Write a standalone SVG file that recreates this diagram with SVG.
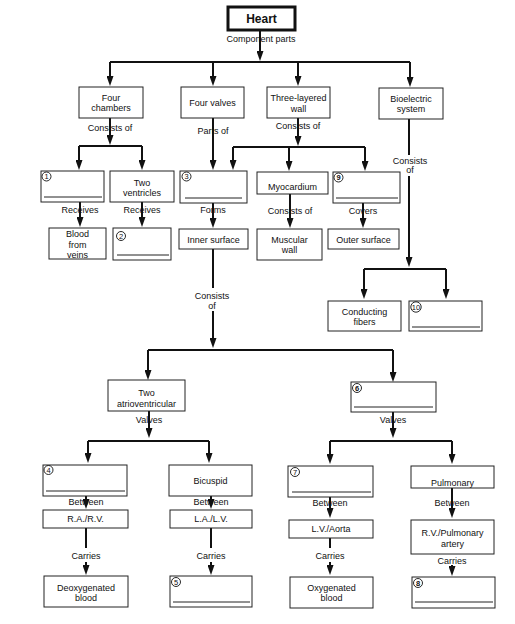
<svg xmlns="http://www.w3.org/2000/svg" width="515" height="624" viewBox="0 0 515 624">
<style>
.bx{fill:#fff;stroke:#222;stroke-width:1}
.hb{fill:#fff;stroke:#111;stroke-width:3}
.t{font-family:"Liberation Sans",Arial,sans-serif;font-size:9px;fill:#111;text-anchor:middle}
.h{font-family:"Liberation Sans",Arial,sans-serif;font-size:12px;font-weight:bold;fill:#111;text-anchor:middle}
.n{font-family:"Liberation Sans",Arial,sans-serif;font-size:7.5px;fill:#111;text-anchor:middle}
.c{fill:none;stroke:#111;stroke-width:0.9}
.u{stroke:#222;stroke-width:1}
.ln{fill:none;stroke:#111;stroke-width:2}
.ar{fill:none;stroke:#111;stroke-width:2;marker-end:url(#ah)}
</style>
<defs>
<marker id="ah" markerUnits="userSpaceOnUse" markerWidth="10" markerHeight="7" refX="2" refY="3.5" orient="auto">
<path d="M0,0 L10,3.5 L0,7 z" fill="#111"/>
</marker>
</defs>
<rect width="515" height="624" fill="#fff"/>

<g id="connectors">
<line class="ar" x1="260" y1="30" x2="260" y2="53"/>
<line class="ln" x1="110" y1="62" x2="410" y2="62"/>
<line class="ar" x1="110" y1="62" x2="110" y2="78"/>
<line class="ar" x1="213" y1="62" x2="213" y2="78"/>
<line class="ar" x1="298" y1="62" x2="298" y2="78"/>
<line class="ar" x1="410" y1="62" x2="410" y2="79"/>

<line class="ar" x1="110" y1="118" x2="110" y2="137"/>
<line class="ln" x1="79" y1="146" x2="142" y2="146"/>
<line class="ar" x1="79" y1="146" x2="79" y2="162"/>
<line class="ar" x1="142" y1="146" x2="142" y2="162"/>

<line class="ar" x1="213" y1="118" x2="213" y2="162"/>

<line class="ar" x1="298" y1="118" x2="298" y2="138"/>
<line class="ln" x1="233" y1="147" x2="365" y2="147"/>
<line class="ar" x1="233" y1="147" x2="233" y2="162"/>
<line class="ar" x1="289" y1="147" x2="289" y2="163"/>
<line class="ar" x1="365" y1="147" x2="365" y2="163"/>

<line class="ln" x1="409" y1="119" x2="409" y2="155"/>
<line class="ar" x1="409" y1="176" x2="409" y2="259"/>
<line class="ln" x1="364" y1="269" x2="446" y2="269"/>
<line class="ar" x1="364" y1="269" x2="364" y2="291"/>
<line class="ar" x1="446" y1="269" x2="446" y2="291"/>

<line class="ar" x1="80" y1="202" x2="80" y2="219"/>
<line class="ar" x1="142" y1="202" x2="142" y2="219"/>
<line class="ar" x1="213" y1="203" x2="213" y2="220"/>
<line class="ar" x1="290" y1="194" x2="290" y2="220"/>
<line class="ar" x1="363" y1="203" x2="363" y2="220"/>

<line class="ln" x1="213" y1="249" x2="213" y2="288"/>
<line class="ar" x1="213" y1="311" x2="213" y2="340"/>
<line class="ln" x1="148" y1="350" x2="393" y2="350"/>
<line class="ar" x1="148" y1="350" x2="148" y2="372"/>
<line class="ar" x1="393" y1="350" x2="393" y2="374"/>

<line class="ar" x1="149" y1="411" x2="149" y2="430"/>
<line class="ln" x1="88" y1="441" x2="209" y2="441"/>
<line class="ar" x1="88" y1="441" x2="88" y2="455"/>
<line class="ar" x1="209" y1="441" x2="209" y2="455"/>
<line class="ar" x1="393" y1="412" x2="393" y2="430"/>
<line class="ln" x1="330" y1="441" x2="452" y2="441"/>
<line class="ar" x1="330" y1="441" x2="330" y2="456"/>
<line class="ar" x1="452" y1="441" x2="452" y2="456"/>

<line class="ar" x1="86" y1="496" x2="86" y2="501"/>
<line class="ar" x1="211" y1="496" x2="211" y2="501"/>
<line class="ar" x1="330" y1="497" x2="330" y2="510"/>
<line class="ar" x1="452" y1="488" x2="452" y2="510"/>

<line class="ln" x1="86" y1="528" x2="86" y2="548"/>
<line class="ar" x1="86" y1="562" x2="86" y2="567"/>
<line class="ln" x1="211" y1="528" x2="211" y2="548"/>
<line class="ar" x1="211" y1="562" x2="211" y2="567"/>
<line class="ln" x1="330" y1="538" x2="330" y2="548"/>
<line class="ar" x1="330" y1="562" x2="330" y2="567"/>
<line class="ar" x1="452" y1="565" x2="452" y2="568"/>
</g>

<g id="edge-labels">
<text class="t" x="261" y="42">Component parts</text>
<text class="t" x="110" y="130.5">Consists of</text>
<text class="t" x="213" y="134">Parts of</text>
<text class="t" x="298" y="128.5">Consists of</text>
<text class="t" x="410" y="164">Consists</text>
<text class="t" x="410" y="173">of</text>
<text class="t" x="80" y="212.5">Receives</text>
<text class="t" x="142" y="212.5">Receives</text>
<text class="t" x="213" y="212.5">Forms</text>
<text class="t" x="290" y="213.5">Consists of</text>
<text class="t" x="363" y="213.5">Covers</text>
<text class="t" x="212" y="298.5">Consists</text>
<text class="t" x="212" y="308.5">of</text>
<text class="t" x="149" y="423">Valves</text>
<text class="t" x="393" y="423">Valves</text>
<text class="t" x="86" y="504.5">Between</text>
<text class="t" x="211" y="504.5">Between</text>
<text class="t" x="330" y="505.5">Between</text>
<text class="t" x="452" y="505.5">Between</text>
<text class="t" x="86" y="558.5">Carries</text>
<text class="t" x="211" y="558.5">Carries</text>
<text class="t" x="330" y="558.5">Carries</text>
<text class="t" x="452" y="563.5">Carries</text>
</g>

<g id="heart"><rect class="hb" x="228" y="7" width="67" height="23"/><text class="h" x="261.5" y="23">Heart</text></g>

<g id="four-chambers"><rect class="bx" x="79" y="87" width="64" height="31"/><text class="t" x="111" y="100.5">Four</text><text class="t" x="111" y="111">chambers</text></g>
<g id="four-valves"><rect class="bx" x="181" y="87" width="63" height="31"/><text class="t" x="212.5" y="106">Four valves</text></g>
<g id="three-layered-wall"><rect class="bx" x="267" y="87" width="63" height="31"/><text class="t" x="298.5" y="101">Three-layered</text><text class="t" x="298.5" y="111.5">wall</text></g>
<g id="bioelectric-system"><rect class="bx" x="379" y="88" width="64" height="31"/><text class="t" x="411" y="102">Bioelectric</text><text class="t" x="411" y="112">system</text></g>

<g id="blank-1"><rect class="bx" x="41" y="171" width="63" height="31"/><circle class="c" cx="46.5" cy="176.5" r="4.5"/><text class="n" x="46.5" y="179.2">1</text><line class="u" x1="44" y1="197" x2="102" y2="197"/></g>
<g id="two-ventricles"><rect class="bx" x="110" y="171" width="64" height="31"/><text class="t" x="142" y="185.5">Two</text><text class="t" x="142" y="195.5">ventricles</text></g>
<g id="blank-3"><rect class="bx" x="180" y="171" width="67" height="32"/><circle class="c" cx="186.5" cy="176.5" r="4.5"/><text class="n" x="186.5" y="179.2">3</text><line class="u" x1="185" y1="198" x2="242" y2="198"/></g>
<g id="myocardium"><rect class="bx" x="257" y="172" width="71" height="22"/><text class="t" x="292.5" y="190">Myocardium</text></g>
<g id="blank-9"><rect class="bx" x="333" y="172" width="67" height="31"/><circle class="c" cx="338.5" cy="177.5" r="4.5"/><text class="n" x="338.5" y="180.2" font-weight="bold">9</text><line class="u" x1="336" y1="198" x2="398" y2="198"/></g>

<g id="blood-from-veins"><rect class="bx" x="49" y="228" width="57" height="31"/><text class="t" x="77.5" y="236.5">Blood</text><text class="t" x="77.5" y="247.5">from</text><text class="t" x="77.5" y="257.5">veins</text></g>
<g id="blank-2"><rect class="bx" x="113" y="228" width="58" height="32"/><circle class="c" cx="121" cy="236" r="4.5"/><text class="n" x="121" y="238.7">2</text><line class="u" x1="117" y1="255" x2="169" y2="255"/></g>
<g id="inner-surface"><rect class="bx" x="179" y="229" width="69" height="20"/><text class="t" x="213.5" y="242.5">Inner surface</text></g>
<g id="muscular-wall"><rect class="bx" x="257" y="229" width="65" height="31"/><text class="t" x="289.5" y="242.5">Muscular</text><text class="t" x="289.5" y="252.5">wall</text></g>
<g id="outer-surface"><rect class="bx" x="328" y="229" width="71" height="20"/><text class="t" x="363.5" y="242.5">Outer surface</text></g>

<g id="conducting-fibers"><rect class="bx" x="328" y="301" width="73" height="30"/><text class="t" x="364.5" y="314.5">Conducting</text><text class="t" x="364.5" y="324.5">fibers</text></g>
<g id="blank-10"><rect class="bx" x="409" y="301" width="73" height="30"/><circle class="c" cx="416" cy="307" r="5.2"/><text class="n" x="416" y="309.5" font-size="6.5px">10</text><line class="u" x1="412" y1="327" x2="480" y2="327"/></g>

<g id="two-atrioventricular"><rect class="bx" x="108" y="380" width="77" height="31"/><text class="t" x="146.5" y="395.5">Two</text><text class="t" x="146.5" y="406.5">atrioventricular</text></g>
<g id="blank-6"><rect class="bx" x="351" y="382" width="85" height="30"/><circle class="c" cx="357" cy="388" r="4.5"/><text class="n" x="357" y="390.7" font-weight="bold">6</text><line class="u" x1="354" y1="407" x2="433" y2="407"/></g>

<g id="blank-4"><rect class="bx" x="43" y="465" width="84" height="31"/><circle class="c" cx="48.5" cy="470" r="4.5"/><text class="n" x="48.5" y="472.7">4</text><line class="u" x1="46" y1="491" x2="125" y2="491"/></g>
<g id="bicuspid"><rect class="bx" x="169" y="465" width="83" height="31"/><text class="t" x="210.5" y="483.5">Bicuspid</text></g>
<g id="blank-7"><rect class="bx" x="288" y="466" width="85" height="31"/><circle class="c" cx="295" cy="472" r="4.5"/><text class="n" x="295" y="474.7">7</text><line class="u" x1="292" y1="492" x2="371" y2="492"/></g>
<g id="pulmonary"><rect class="bx" x="411" y="466" width="83" height="22"/><text class="t" x="452.5" y="485.5">Pulmonary</text></g>

<g id="ra-rv"><rect class="bx" x="43" y="510" width="85" height="18"/><text class="t" x="85.5" y="521.5">R.A./R.V.</text></g>
<g id="la-lv"><rect class="bx" x="170" y="510" width="82" height="18"/><text class="t" x="211" y="521.5">L.A./L.V.</text></g>
<g id="lv-aorta"><rect class="bx" x="289" y="520" width="84" height="18"/><text class="t" x="331" y="531.5">L.V./Aorta</text></g>
<g id="rv-pulmonary-artery"><rect class="bx" x="411" y="520" width="83" height="34"/><text class="t" x="452.5" y="535.5">R.V./Pulmonary</text><text class="t" x="452.5" y="546.5">artery</text></g>

<g id="deoxygenated-blood"><rect class="bx" x="44" y="576" width="84" height="31"/><text class="t" x="86" y="590.5">Deoxygenated</text><text class="t" x="86" y="600.5">blood</text></g>
<g id="blank-5"><rect class="bx" x="170" y="576" width="82" height="31"/><circle class="c" cx="176" cy="582" r="4.5"/><text class="n" x="176" y="584.7">5</text><line class="u" x1="173" y1="602" x2="250" y2="602"/></g>
<g id="oxygenated-blood"><rect class="bx" x="290" y="577" width="83" height="31"/><text class="t" x="331.5" y="590.5">Oxygenated</text><text class="t" x="331.5" y="600.5">blood</text></g>
<g id="blank-8"><rect class="bx" x="412" y="577" width="83" height="31"/><circle class="c" cx="418" cy="583" r="4.5"/><text class="n" x="418" y="585.7" font-weight="bold">8</text><line class="u" x1="415" y1="602" x2="493" y2="602"/></g>
</svg>
